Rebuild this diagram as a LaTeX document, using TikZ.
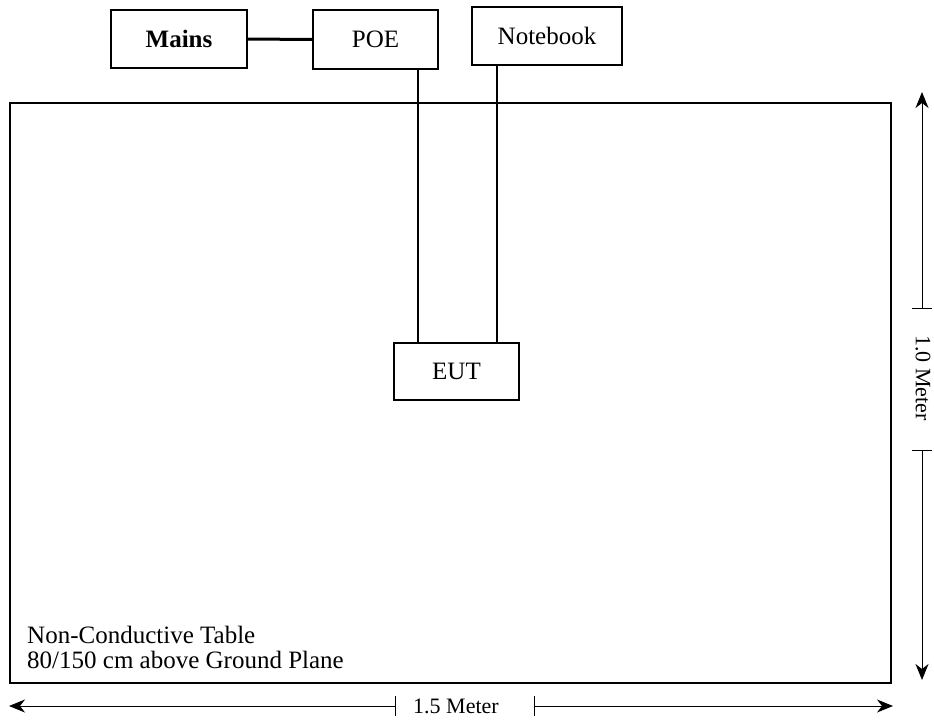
\documentclass[tikz,border=0pt]{standalone}
\usepackage{fontspec}
\setmainfont{Liberation Serif}
\usetikzlibrary{arrows.meta}
\begin{document}
\begin{tikzpicture}[x=1pt,y=-1pt,
  box/.style={draw,line width=1.5pt,inner sep=0pt,font=\fontsize{25}{30}\selectfont},
  wire/.style={line width=1.2pt},
  dim/.style={line width=1pt,-{Stealth[length=16pt,width=13pt,inset=5pt]}},
  tick/.style={line width=1pt},
  dimtext/.style={font=\fontsize{22}{26}\selectfont,inner sep=0pt},
  lbl/.style={font=\fontsize{25}{30}\selectfont,anchor=base west,inner sep=0pt}]
\useasboundingbox (0,0) rectangle (934,720);
\draw[line width=2.5pt] (10,103) rectangle (891,683);
\node[box,minimum width=136pt,minimum height=58pt] (mains) at (179,39) {\textbf{Mains}};
\node[box,minimum width=125pt,minimum height=59pt] (poe) at (375.5,39.5) {POE};
\node[box,minimum width=150pt,minimum height=58pt] (nb) at (547,36) {Notebook};
\node[box,minimum width=125pt,minimum height=57pt] (eut) at (456.5,371.5) {EUT};
\draw[line width=3pt] (mains.east) -- (poe.west);
\draw[wire] (poe.south -| 418,0) -- (eut.north -| 418,0);
\draw[wire] (nb.south -| 497,0) -- (eut.north -| 497,0);
\node[lbl] (t1) at (27,643) {Non-Conductive Table};
\node[lbl] (t2) at (27,668) {80/150 cm above Ground Plane};
\node[dimtext] (hl) at (456,706) {1.5 Meter};
\coordinate (hl1) at (395,706);
\coordinate (hr1) at (534,706);
\coordinate (hL) at (9,706);
\coordinate (hR) at (893,706);
\draw[dim] (hl1) -- (hL);
\draw[dim] (hr1) -- (hR);
\draw[tick] (hl1) ++(0,-10) -- ++(0,20);
\draw[tick] (hr1) ++(0,-10) -- ++(0,20);
\node[dimtext,rotate=-90] (vl) at (923,378) {1.0 Meter};
\coordinate (vt1) at (922,308);
\coordinate (vb1) at (922,450);
\coordinate (vT) at (922,92);
\coordinate (vB) at (922,680);
\draw[dim] (vt1) -- (vT);
\draw[dim] (vb1) -- (vB);
\draw[tick] (vt1) ++(-10,0) -- ++(20,0);
\draw[tick] (vb1) ++(-10,0) -- ++(20,0);
\end{tikzpicture}
\end{document}
